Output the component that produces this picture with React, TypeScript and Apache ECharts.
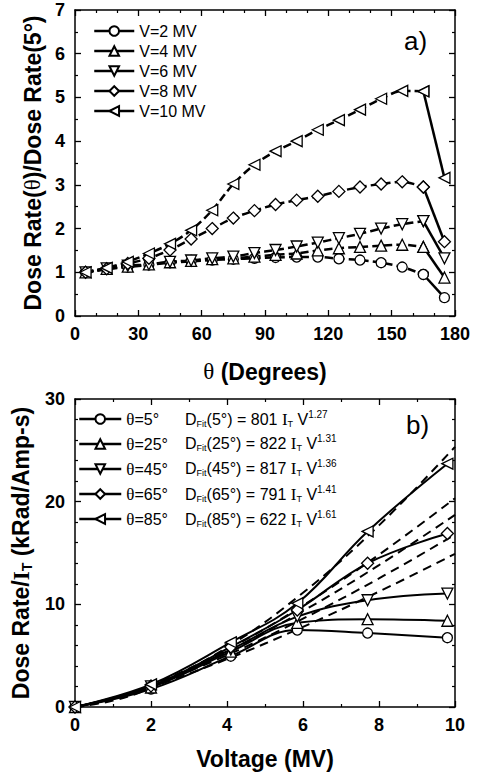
import React, { useEffect, useRef } from 'react';
import * as echarts from 'echarts';

// ---------- Panel a) ----------
const angles = [5, 15, 25, 35, 45, 55, 65, 75, 85, 95, 105, 115, 125, 135, 145, 155, 165, 175];
const v2 = [1.0, 1.07, 1.12, 1.17, 1.22, 1.25, 1.28, 1.3, 1.32, 1.34, 1.35, 1.35, 1.31, 1.28, 1.22, 1.12, 0.95, 0.42];
const v4 = [1.0, 1.08, 1.13, 1.18, 1.23, 1.26, 1.3, 1.32, 1.36, 1.4, 1.43, 1.5, 1.55, 1.58, 1.61, 1.63, 1.58, 0.88];
const v6 = [1.0, 1.09, 1.15, 1.18, 1.24, 1.27, 1.32, 1.36, 1.44, 1.51, 1.59, 1.68, 1.78, 1.88, 2.0, 2.1, 2.17, 1.32];
const v8 = [1.0, 1.08, 1.2, 1.32, 1.51, 1.76, 2.0, 2.24, 2.41, 2.55, 2.65, 2.74, 2.85, 2.95, 3.02, 3.07, 2.95, 1.7];
const v10 = [1.0, 1.1, 1.24, 1.43, 1.65, 1.96, 2.42, 3.02, 3.46, 3.77, 4.0, 4.26, 4.48, 4.72, 4.97, 5.15, 5.14, 3.16];
const topNames = ['V=2 MV', 'V=4 MV', 'V=6 MV', 'V=8 MV', 'V=10 MV'];
const topValues = [v2, v4, v6, v8, v10];

// ---------- Panel b) ----------
const voltages = [0, 2, 4.1, 5.85, 7.7, 9.8];
const d5 = [0, 1.75, 4.95, 7.5, 7.2, 6.75];
const d25 = [0, 1.9, 5.4, 8.2, 8.55, 8.4];
const d45 = [0, 2.0, 5.6, 8.8, 10.4, 11.05];
const d65 = [0, 2.05, 5.85, 9.45, 14.0, 16.9];
const d85 = [0, 2.2, 6.3, 10.1, 17.1, 23.7];
const bottomNames = ['θ=5°', 'θ=25°', 'θ=45°', 'θ=65°', 'θ=85°'];
const bottomValues = [d5, d25, d45, d65, d85];

const fitVoltages = [0, 1, 2, 4, 6, 8, 10];
const fit5 = [0, 0.8, 1.93, 4.66, 7.8, 11.24, 14.92];
const fit25 = [0, 0.82, 2.04, 5.05, 8.6, 12.53, 16.79];
const fit45 = [0, 0.82, 2.1, 5.38, 9.35, 13.82, 18.72];
const fit65 = [0, 0.79, 2.1, 5.58, 9.89, 14.84, 20.33];
const fit85 = [0, 0.62, 1.9, 5.8, 11.13, 17.69, 25.34];
const fitValues = [fit5, fit25, fit45, fit65, fit85];
const fitAngles = ['5', '25', '45', '65', '85'];
const fitCoef = ['801', '822', '817', '791', '622'];
const fitExp = ['1.27', '1.31', '1.36', '1.41', '1.61'];

const symbols = ['circle', 'triangle', 'path://M0,0L10,0L5,10Z', 'diamond', 'path://M0,5L10,0L10,10Z'];
const symbolSizes = [10, 11, 11, 12, 11];

const SANS = 'Liberation Sans';
const SERIF = 'Liberation Serif';

function axisCommon(extra: any) {
  return {
    axisLine: { show: true, onZero: false, lineStyle: { color: '#000', width: 1.5 } },
    axisTick: { show: true, inside: true, length: 6, lineStyle: { color: '#000', width: 1.3 } },
    splitLine: { show: false },
    ...extra,
  };
}

const labelStyle = { color: '#000', fontSize: 18, fontWeight: 'bold', fontFamily: SANS };
const nameStyle = {
  color: '#000', fontSize: 23, fontWeight: 'bold', fontFamily: SANS,
  rich: {
    t: { fontFamily: SERIF, fontSize: 23, fontWeight: 'normal', color: '#000' },
    s: { fontFamily: SANS, fontSize: 14, fontWeight: 'bold', color: '#000', padding: [12, 0, 0, 0] },
    i: { fontFamily: SERIF, fontSize: 23, fontWeight: 'bold', color: '#000' },
  },
};

export default function App() {
  const ref = useRef<HTMLDivElement>(null);
  useEffect(() => {
    if (!ref.current) return;
    const chart = echarts.init(ref.current, null, { renderer: 'svg' });

    const itemStyle = { color: '#fff', borderColor: '#000', borderWidth: 1.3 };
    const series: any[] = [];
    topValues.forEach((vals, i) => {
      series.push({
        type: 'line', name: topNames[i], xAxisIndex: 0, yAxisIndex: 0,
        data: angles.slice(0, 17).map((a, j) => [a, vals[j]]),
        smooth: 0.3, symbol: symbols[i], symbolSize: symbolSizes[i],
        lineStyle: { color: '#000', width: 2.5, type: [8, 4] },
        itemStyle,
      });
      series.push({
        type: 'line', name: topNames[i] + ' end', xAxisIndex: 0, yAxisIndex: 0,
        data: angles.slice(16).map((a, j) => [a, vals[16 + j]]),
        symbol: symbols[i], symbolSize: symbolSizes[i],
        lineStyle: { color: '#000', width: 2.5, type: 'solid' },
        itemStyle,
      });
    });
    fitValues.forEach((vals, i) => {
      series.push({
        type: 'line', name: 'fit ' + fitAngles[i], xAxisIndex: 2, yAxisIndex: 2,
        data: fitVoltages.map((v, j) => [v, vals[j]]),
        smooth: 0.4, symbol: 'none',
        lineStyle: { color: '#000', width: 2, type: [9, 6] },
      });
    });
    bottomValues.forEach((vals, i) => {
      series.push({
        type: 'line', name: bottomNames[i], xAxisIndex: 2, yAxisIndex: 2,
        data: voltages.map((v, j) => [v, vals[j]]),
        smooth: 0.4, symbol: symbols[i], symbolSize: symbolSizes[i],
        lineStyle: { color: '#000', width: 2, type: 'solid' },
        itemStyle,
      });
    });

    const eqRich = {
      n: { fontFamily: SANS, fontSize: 16, color: '#000' },
      i: { fontFamily: SERIF, fontSize: 17, color: '#000' },
      s: { fontFamily: SANS, fontSize: 9, color: '#000', padding: [10, 0, 0, 0] },
      p: { fontFamily: SANS, fontSize: 10, color: '#000', padding: [0, 0, 10, 0] },
    };
    const rowsY = [419, 443, 468, 494, 519];
    const graphics: any[] = fitAngles.map((a, i) => ({
      type: 'text', x: 185, y: rowsY[i],
      style: {
        text: `{n|D}{s|Fit}{n|(${a}°) = ${fitCoef[i]} }{i|I}{s|T}{n| V}{p|${fitExp[i]}}`,
        rich: eqRich, verticalAlign: 'middle', fill: '#000',
      },
    }));
    graphics.push({ type: 'text', x: 404, y: 28, style: { text: 'a)', font: `26px "${SANS}"`, fill: '#000' } });
    graphics.push({ type: 'text', x: 406, y: 412, style: { text: 'b)', font: `26px "${SANS}"`, fill: '#000' } });

    chart.setOption({
      animation: false,
      backgroundColor: '#fff',
      grid: [
        { left: 75, top: 10, width: 380, height: 306 },
        { left: 75, top: 399, width: 380, height: 308 },
      ],
      xAxis: [
        axisCommon({
          type: 'value', gridIndex: 0, position: 'bottom', min: 0, max: 180, interval: 30,
          minorTick: { show: true, splitNumber: 3, length: 3, lineStyle: { color: '#000', width: 1.2 } },
          axisLabel: { ...labelStyle, margin: 9 },
          name: '{t|θ} (Degrees)', nameLocation: 'middle', nameGap: 44, nameTextStyle: nameStyle,
        }),
        axisCommon({
          type: 'value', gridIndex: 0, position: 'top', min: 0, max: 180, interval: 30,
          minorTick: { show: true, splitNumber: 3, length: 3, lineStyle: { color: '#000', width: 1.2 } },
          axisLabel: { show: false },
        }),
        axisCommon({
          type: 'value', gridIndex: 1, position: 'bottom', min: 0, max: 10, interval: 2,
          minorTick: { show: true, splitNumber: 2, length: 3, lineStyle: { color: '#000', width: 1.2 } },
          axisLabel: { ...labelStyle, margin: 9 },
          name: 'Voltage (MV)', nameLocation: 'middle', nameGap: 40, nameTextStyle: nameStyle,
        }),
        axisCommon({
          type: 'value', gridIndex: 1, position: 'top', min: 0, max: 10, interval: 2,
          minorTick: { show: true, splitNumber: 2, length: 3, lineStyle: { color: '#000', width: 1.2 } },
          axisLabel: { show: false },
        }),
      ],
      yAxis: [
        axisCommon({
          type: 'value', gridIndex: 0, position: 'left', min: 0, max: 7, interval: 1,
          minorTick: { show: true, splitNumber: 2, length: 3, lineStyle: { color: '#000', width: 1.2 } },
          axisLabel: { ...labelStyle, margin: 10 },
          name: 'Dose Rate({t|θ})/Dose Rate(5°)', nameLocation: 'middle', nameGap: 31, nameTextStyle: nameStyle,
        }),
        axisCommon({
          type: 'value', gridIndex: 0, position: 'right', min: 0, max: 7, interval: 1,
          minorTick: { show: true, splitNumber: 2, length: 3, lineStyle: { color: '#000', width: 1.2 } },
          axisLabel: { show: false },
        }),
        axisCommon({
          type: 'value', gridIndex: 1, position: 'left', min: 0, max: 30, interval: 10,
          minorTick: { show: true, splitNumber: 5, length: 3, lineStyle: { color: '#000', width: 1.2 } },
          axisLabel: { ...labelStyle, margin: 10 },
          name: 'Dose Rate/{i|I}{s|T} (kRad/Amp-s)', nameLocation: 'middle', nameGap: 38, nameTextStyle: nameStyle,
        }),
        axisCommon({
          type: 'value', gridIndex: 1, position: 'right', min: 0, max: 30, interval: 10,
          minorTick: { show: true, splitNumber: 5, length: 3, lineStyle: { color: '#000', width: 1.2 } },
          axisLabel: { show: false },
        }),
      ],
      legend: [
        {
          data: topNames, orient: 'vertical', left: 93, top: 22, padding: 0, itemWidth: 40, itemHeight: 12, itemGap: 2,
          selectedMode: false, lineStyle: { type: 'solid', width: 2.5, color: '#000' },
          textStyle: { fontSize: 16, fontFamily: SANS, color: '#000', lineHeight: 18 },
        },
        {
          data: bottomNames, orient: 'vertical', left: 78, top: 410, padding: 0, itemWidth: 42, itemHeight: 12, itemGap: 7,
          selectedMode: false, lineStyle: { type: 'solid', width: 2.5, color: '#000' },
          formatter: (name: string) => `{t|θ}{n|${name.slice(1)}}`,
          textStyle: {
            fontSize: 16, fontFamily: SANS, color: '#000', lineHeight: 18,
            rich: {
              t: { fontFamily: SERIF, fontSize: 17, color: '#000', lineHeight: 18 },
              n: { fontFamily: SANS, fontSize: 16, color: '#000', lineHeight: 18 },
            },
          },
        },
      ],
      graphic: graphics,
      series,
    });
    return () => chart.dispose();
  }, []);
  return (
    <div
      ref={ref}
      style={{ position: 'absolute', left: 0, top: 0, width: 482, height: 778, background: '#fff' }}
    />
  );
}
